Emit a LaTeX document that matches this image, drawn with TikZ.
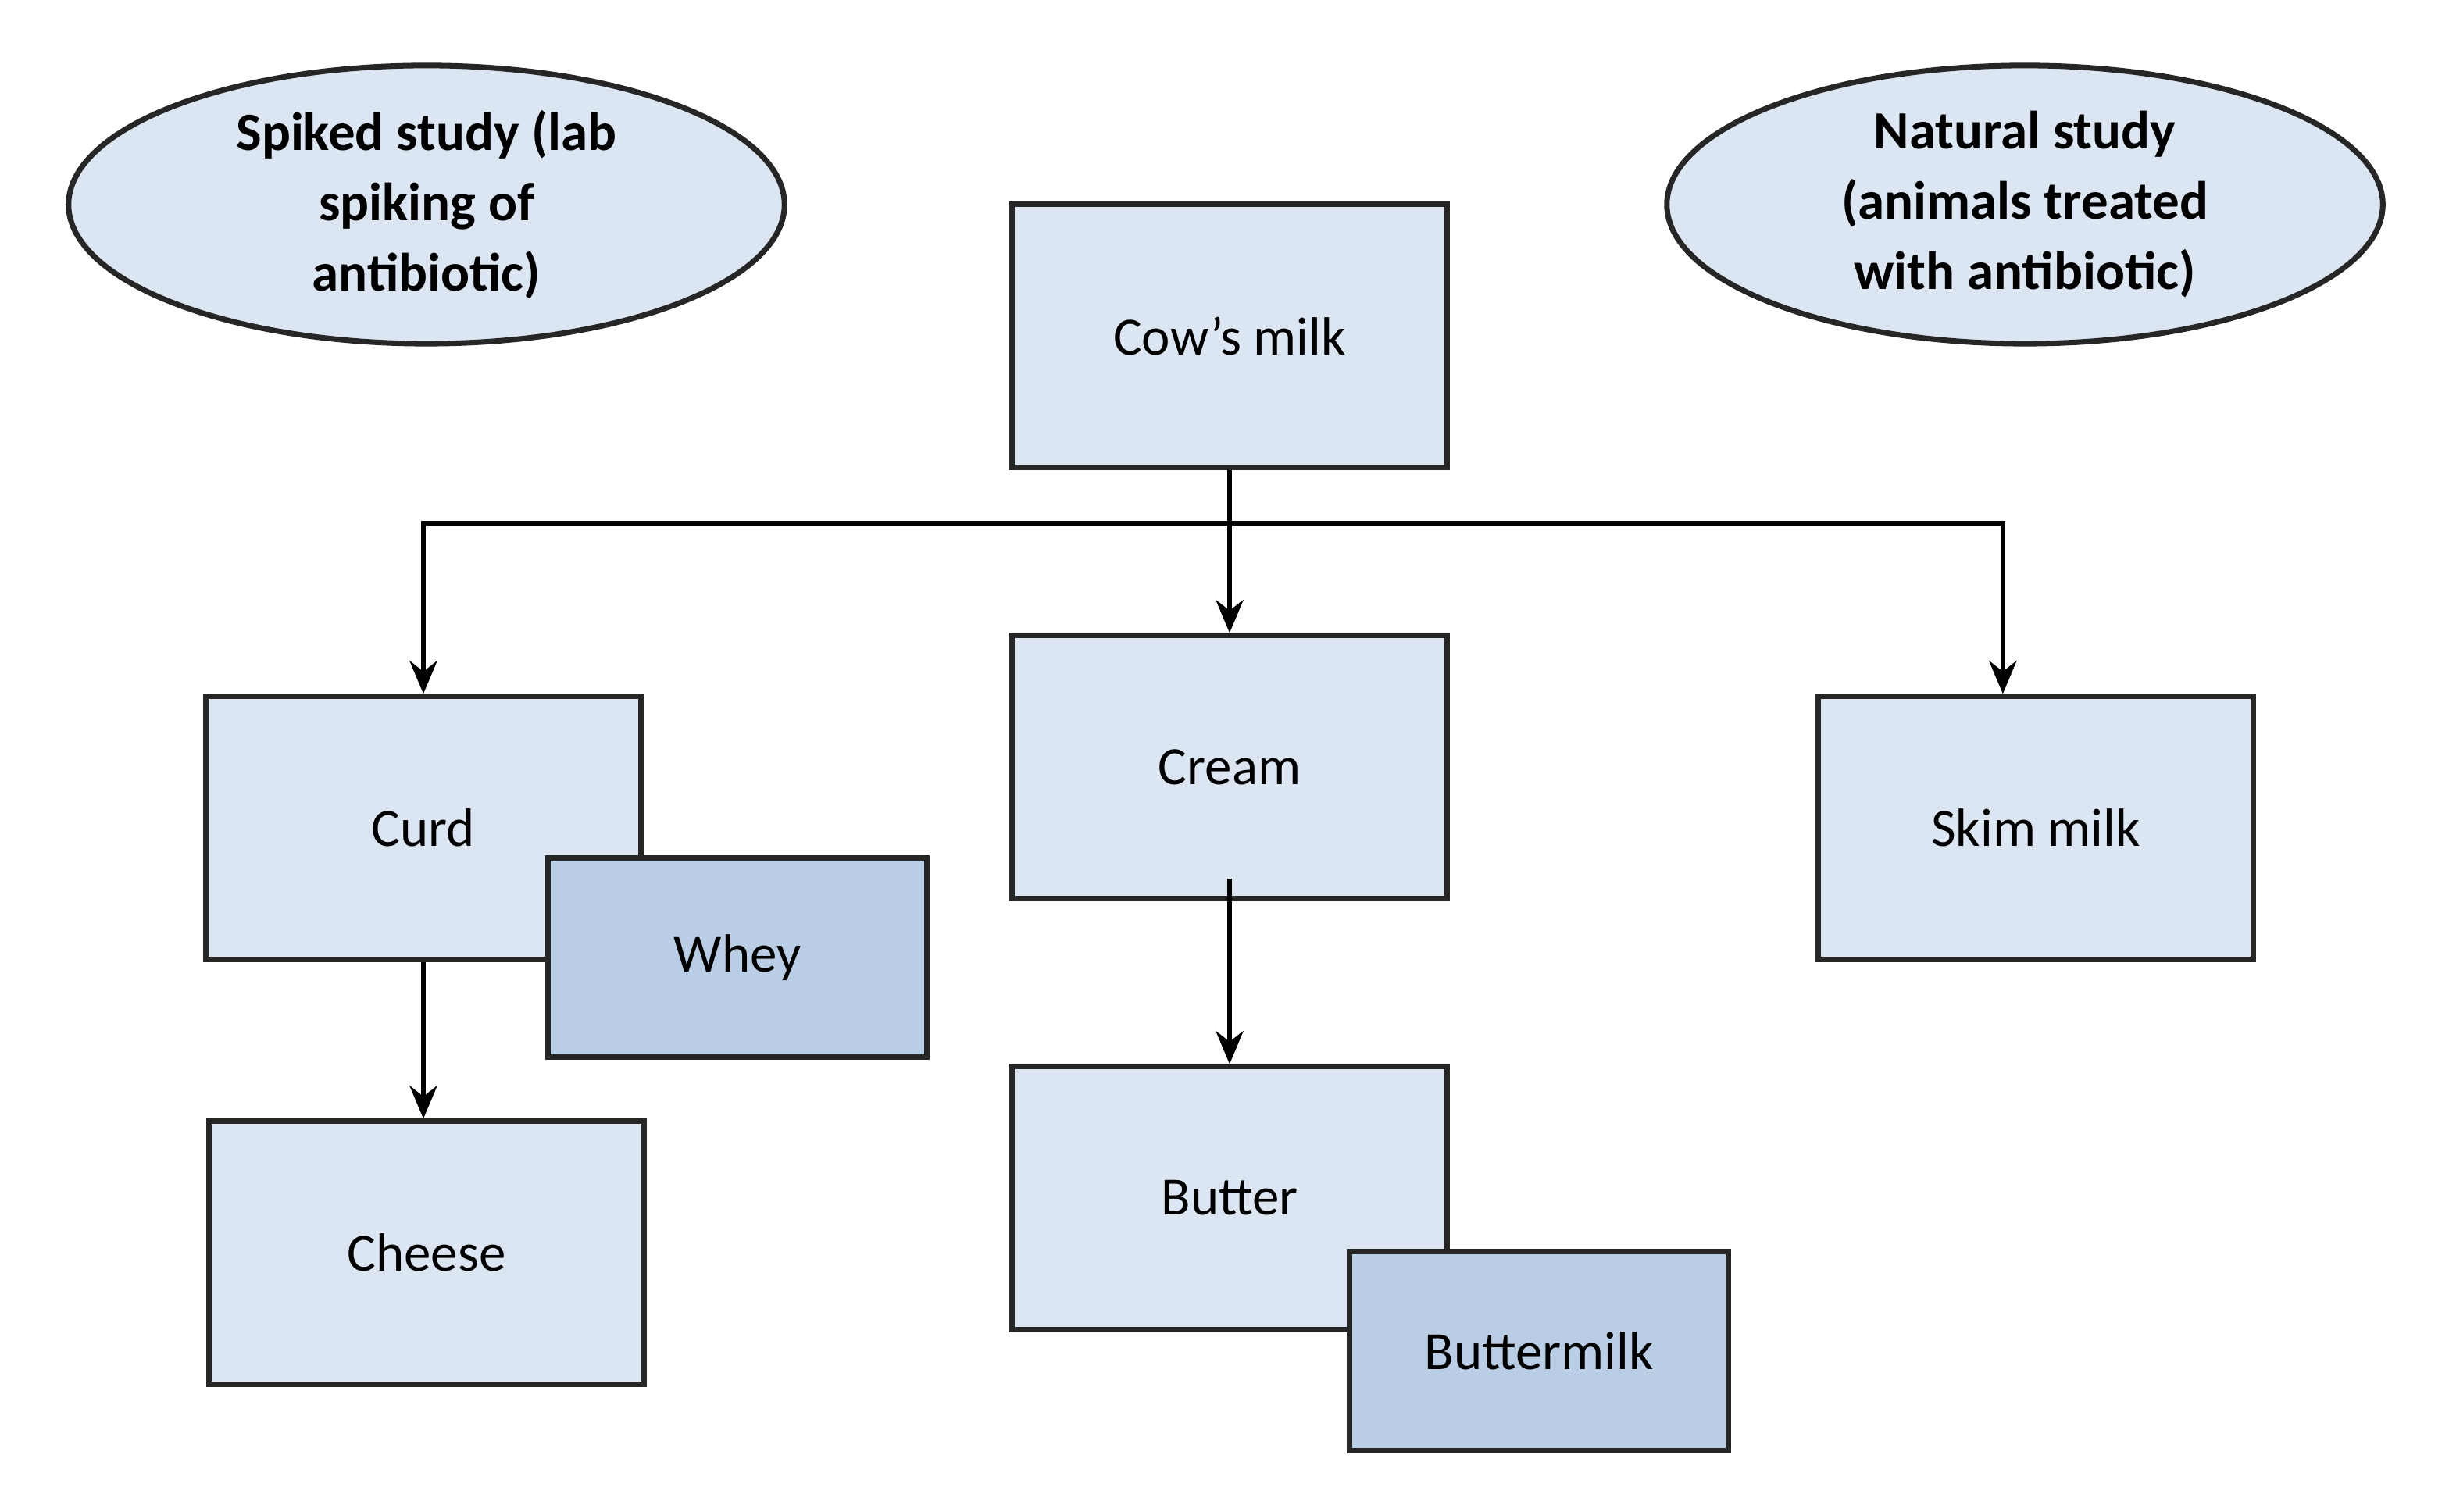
\documentclass[tikz,border=0pt]{standalone}
\usepackage{fontspec}
\setmainfont{Carlito}
\usetikzlibrary{shapes.geometric,arrows.meta}
\definecolor{boxfill}{HTML}{DCE6F2}
\definecolor{sidefill}{HTML}{B9CDE5}
\tikzset{
    step-box/.style = {draw=black!85, fill=boxfill, line width=1pt, rectangle, minimum width=2.78cm, minimum height=1.68cm, font=\fontsize{9.8}{11.5}\selectfont},
    side-box/.style = {step-box, fill=sidefill, minimum width=2.42cm, minimum height=1.27cm},
    study-oval/.style = {draw=black!85, fill=boxfill, line width=1pt, ellipse, minimum width=4.58cm, minimum height=1.78cm, align=center, inner sep=0pt, font=\bfseries\fontsize{9.8}{12.8}\selectfont},
    flow/.style = {-{Stealth[length=6pt,width=5pt]}, line width=0.9pt},
}

\begin{document}
\begin{tikzpicture}[x=0.01cm, y=-0.01cm]
\useasboundingbox (0,0) rectangle (1567.5,968);
% study ovals
\node [study-oval] (spiked) at (273,131) {Spiked study (lab\\spiking of\\antibiotic)};
\node [study-oval] (natural) at (1296,131) {Natural study\\(animals treated\\with antibiotic)};
% process boxes
\node [step-box] (milk) at (787,215) {Cow’s milk};
\node [step-box] (cream) at (787,491) {Cream};
\node [step-box] (curd) at (271,530) {Curd};
\node [step-box] (skim) at (1303,530) {Skim milk};
\node [step-box] (cheese) at (273,802) {Cheese};
\node [step-box] (butter) at (787,767) {Butter};
\node [side-box] (whey) at (472,613) {Whey};
\node [side-box] (buttermilk) at (985,865) {Buttermilk};
% connectors
\coordinate (split) at (787,335);
\draw [flow] (milk) -- (cream);
\draw [flow] (split) -| (curd.north);
\draw [flow] (split) -| ([xshift=-6]skim.north);
\draw [flow] (curd) -- (cheese.north -| curd);
\draw [flow] ([yshift=4]cream.south) -- (butter);
\end{tikzpicture}
\end{document}
